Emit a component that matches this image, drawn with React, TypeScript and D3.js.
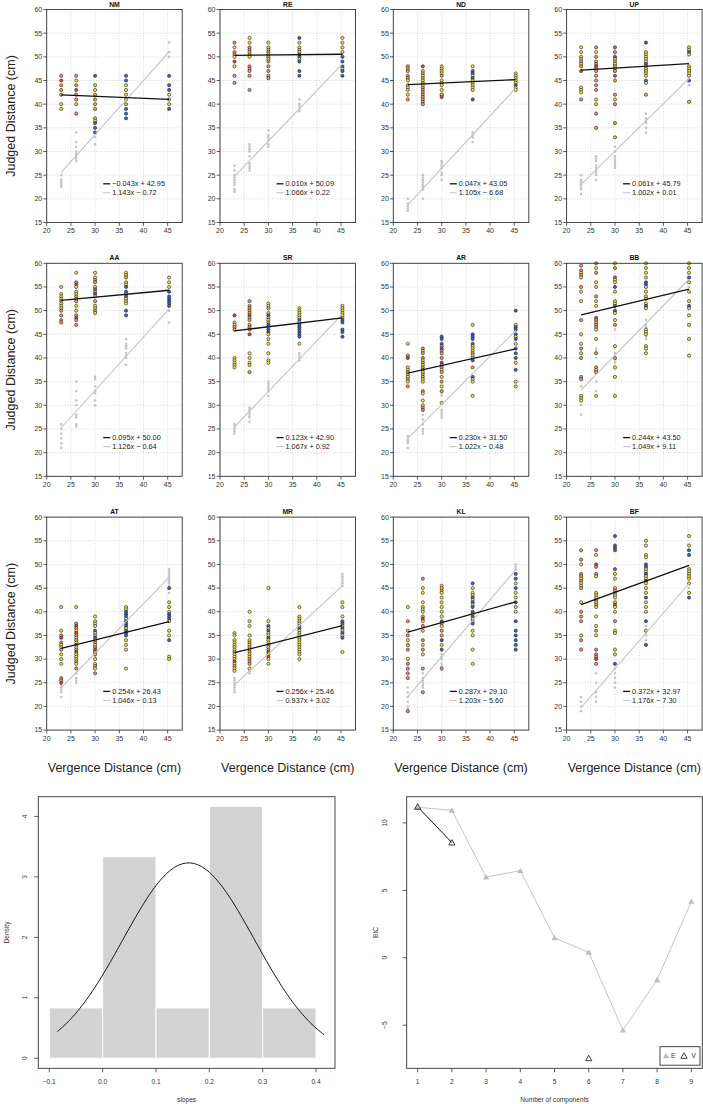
import React from "react";
import * as d3 from "d3";

// ---------- DATA ----------
const panelNames = ["NM", "RE", "ND", "UP", "AA", "SR", "AR", "BB", "AT", "MR", "KL", "BF"];
const vergenceX = [23, 26.1, 30, 36.4, 45.3];
const blackSlope = [-0.043, 0.010, 0.047, 0.061, 0.095, 0.123, 0.230, 0.244, 0.254, 0.256, 0.287, 0.372];
const blackIntercept = [42.95, 50.09, 43.05, 45.79, 50.00, 42.90, 31.50, 43.50, 26.43, 25.46, 29.10, 32.97];
const graySlope = [1.143, 1.066, 1.105, 1.002, 1.126, 1.067, 1.022, 1.049, 1.046, 0.937, 1.203, 1.176];
const grayIntercept = [-0.72, 0.22, -6.68, 0.01, -0.64, 0.92, -0.48, 9.11, -0.13, 3.02, -5.60, -7.30];

const xTicks = [20, 25, 30, 35, 40, 45];
const yTicks = [15, 20, 25, 30, 35, 40, 45, 50, 55, 60];

// judged distances per vergence column: value + colour code
const NM_pts = [
  "46p 45r 44o 43o 42o 40y 39y",
  "46p 45y 44o 43r 42o 41o 40y 38p",
  "46b 44g 43y 42o 41o 40o 39o 37g 36.5y 36b 35b 34b",
  "46b 45b 44y 43y 42y 41g 40g 39b 38b 37b",
  "46b 44b 43b 42y 41g 40y 39b",
];
const NM_gray = [[25, 24, 23.5, 23, 22.5], [34, 32, 31, 30, 29.5, 29, 28.5, 28], [34, 33, 31.5], [41, 40], [53, 51, 50]];

const RE_pts = [
  "53p 52y 51o 50.5o 50y 49r 48y 46p 44.5p",
  "54y 53y 52o 51.5p 51y 50.5o 50y 48p 47.5p 47p 46p 43p",
  "53y 52y 51.5o 51o 50.5y 50o 49.5y 49p 48p 47p 46p 45.5p",
  "54b 53y 52y 51.5o 51y 50.5b 50b 49.5y 49b 47b 46b",
  "54y 53y 52y 51y 50b 49b 48b 47.5y 47b 46b",
];
const RE_gray = [[27, 26, 25, 24.5, 24, 23.5, 23, 22, 21.5], [31.5, 31, 30.5, 30, 29, 27.5, 27, 26.5, 26], [34.5, 33.5, 33, 32.5, 31.5, 31], [41, 40, 39.5, 39, 38.5], [48, 47]];

const ND_pts = [
  "48p 47.5o 47o 46p 45.5o 45y 44y 43.5y 43y 42y 41o",
  "48r 47y 46.5o 46y 45.5o 45y 44.5o 44y 43.5o 43p 42.5o 42p 41.5o 41p 40.5o 40p",
  "48y 47.5y 47y 46.5y 46o 45y 44.5y 44y 43y 42p 42y 41.5r",
  "48y 47b 46.5b 46y 45.5b 45y 44.5y 44y 43.5y 43y 41b",
  "46.5y 46y 45.5y 45y 44.5y 44b 43.5y 43y",
];
const ND_gray = [[20, 19, 18.5, 18, 17.5], [25, 24.5, 24, 23.5, 23, 22.5, 22, 20], [28, 27.5, 27, 26.5, 25.5, 25, 24], [34, 33.5, 33, 32], [43]];

const UP_pts = [
  "52y 51y 50y 49.5y 49p 48.5y 48o 47r 43.5y 43y 42.5y 41p",
  "52p 51y 50p 49o 48.5p 48r 47.5p 47o 46p 45p 44p 43p 41y 40y 38p 35o",
  "52v 51p 50b 49.5y 49o 48.5y 48o 47.5y 47p 46r 45o 42p 41y 40p 36o 33g",
  "53b 51y 50.5y 50y 49.5y 49y 48.5b 48y 47.5y 47y 46.5y 46y 45b 44.5y 42o",
  "52y 51.5y 51b 50.5y 48y 47.5y 47y 46.5y 46y 45b 40.5g",
];
const UP_gray = [[25, 24, 23.5, 23, 22.5, 22, 21], [29, 28.5, 28, 27, 26.5, 26, 25.5, 25, 24], [31, 30, 29, 28.5, 28, 27.5, 27, 26.5], [38, 37, 36.5, 36, 35, 34], [44]];

const AA_pts = [
  "55y 53.5y 53y 52.5y 52o 51.5y 51y 50.5y 50p 49p 48p 47.5p",
  "58y 56p 55.5r 55y 54y 53.5y 53o 52.5y 52p 51y 50y 49p 48.5r 48p 47p",
  "58y 57y 56.5p 56p 55y 54.5r 54p 53.5b 53y 52o 51y 50.5y 50p 49.5y",
  "58y 57.5y 57o 56y 55.5y 55b 54b 53.5y 53b 52.5y 52y 51.5y 50b 49b",
  "57y 56y 55y 54b 53b 52.5b 52b 51.5b 51b",
];
const AA_gray = [[26, 25, 24, 23, 22, 21], [35, 33, 31, 30, 28, 27.5, 26, 25.5], [36, 35.5, 34, 33, 32.5, 31, 30], [44, 43, 42.5, 42, 41, 40.5, 40, 38.5], [50, 47.5]];

const SR_pts = [
  "49r 47.5y 47y 46.5o 46o 40y 39.5y 39y 38.5y 38y",
  "52p 51p 50.5o 50o 49.5o 49r 48.5o 48o 47o 46.5p 46o 45r 41y 40y 39y 38.5y 37o",
  "51.5y 51y 50.5o 49.5y 49b 48.5o 48y 47.5o 47b 46.5y 46b 45.5b 45y 44y 43y 41y 39.5y 39y",
  "50.5y 50y 49.5y 49y 48.5y 48b 47.5y 47b 46.5b 46b 45.5b 45b 44.5b 43y",
  "51y 50.5y 50y 49.5y 49y 48.5y 48b 47.5b 46b 45.5b 44.5b",
];
const SR_gray = [[26, 25.5, 25, 24.5, 24], [29.5, 29, 28.5, 28, 27.5, 26.5], [35, 34.5, 34, 33.5, 33, 32], [41, 40.5, 40, 39.5], [48]];

const AR_pts = [
  "43y 40.5p 40r 38y 37.5y 37o 36.5o 36y 35.5o 35y 34o",
  "42p 41.5y 41o 40p 39.5y 39o 38.5y 38p 37.5o 37y 36.5p 36o 35.5y 35y 33p 32.5y 31y 30y 29.5p 29p",
  "44.5b 44b 43b 42.5p 42b 41.5p 41o 40p 39b 38.5o 38p 37.5y 37o 36y 35o 34y 33o 30.5y",
  "47y 45b 44.5b 44b 43b 42.5y 42y 41.5y 41o 40.5y 40y 39.5b 38o 36b 35.5y 35y 32y",
  "50b 47y 46.5b 46b 45b 44.5y 44b 43y 42b 41b 40b 39y 37.5b 35y 34y",
];
const AR_gray = [[23.5, 23, 22.5, 22, 21], [28, 27, 26, 25, 24.5, 24], [32.5, 32, 29, 28.5, 28, 27.5], [36, 35], [46, 45]];

const BB_pts = [
  "59.5p 58.5p 58y 57.5o 57y 55o 54y 52y 48p 45y 43y 42p 41y 40p 36p 35.5p 32y 31.5y 31y",
  "60p 59y 58p 56y 55y 53p 52y 51y 48.5r 48p 47.5o 47p 46.5p 46y 44y 41p 38o 37.5y 37p 32y",
  "60y 59o 57r 56.5y 56y 55b 54y 52y 51.5y 51r 50b 49.5y 48y 47p 42.5y 40p 38y 36y 32y",
  "60y 59y 58y 57y 56b 55.5b 55y 54y 53y 52.5y 51.5y 51b 50.5y 46y 45.5y 45y 42.5y 42y 41y",
  "60y 59y 58y 57b 56y 54y 52y 51b 50.5y 49y 47y 44y 40.5y",
];
const BB_gray = [[34, 32, 30, 28], [42, 41.5, 41, 40, 35, 33], [46, 41, 40, 39.5, 39, 38], [48, 47, 46.5, 46, 45.5, 44.5, 44], [56, 55]];

const AT_pts = [
  "41y 36y 35p 34.5r 33.5p 33y 32.5y 32o 31y 30y 29y 26p 25.5p 25r",
  "41y 37.5p 37r 36.5p 36y 35.5r 35p 34.5y 34o 33.5y 33p 32.5y 32o 31.5r 31y 30.5y 30y 29.5p 29y 28p",
  "39y 38y 37.5y 37y 36b 35.5y 35p 34.5b 34y 33.5p 33y 32.5p 32r 31.5p 31o 30y 29y 28.5p 28y 27p",
  "41y 40.5y 40b 39.5b 39b 38.5y 38b 37.5b 37b 36.5y 36b 35.5b 35b 34y 33y 32y 28y",
  "45b 42y 41y 40y 39.5b 39b 38.5b 38y 36y 35y 34b 30.5y 30y",
];
const AT_gray = [[24.5, 24, 23.5, 23, 22], [29, 28, 27, 26, 25.5, 25], [32, 31, 30.5, 30, 29], [38, 37.5, 37, 36], [49, 48.5, 48, 47.5, 47, 46.5, 46, 45.5, 44]];

const MR_pts = [
  "35.5y 35y 34y 33.5y 33y 32.5y 32y 31.5o 31y 30.5y 30y 29.5r 29y 28.5o 28y 27.5y",
  "40y 38y 37y 35y 34y 33.5o 33y 32.5o 32y 31.5o 31y 30.5y 30o 29.5p 29o 28y",
  "45y 38y 37b 36.5y 36b 35.5y 35y 34.5b 34y 33.5y 33p 32.5y 32p 31.5r 31y 30.5r 30y 29y",
  "41y 39y 38.5y 38y 37.5y 37y 36.5b 36y 35.5y 35y 34.5y 34y 33.5y 33y 32.5y 32y 31.5y 31y 30y",
  "42y 41y 39y 38b 37.5b 37y 36.5b 36y 35.5b 35y 34.5b 31.5y",
];
const MR_gray = [[26, 25.5, 25, 24.5, 24, 23.5, 23], [28, 27.5, 27], [31, 30], [38, 37], [48, 47.5, 47, 46.5, 46, 45.5]];

const KL_pts = [
  "41y 38o 36y 35p 34y 33o 32p 30y 29p 28p 27p 26p 19p",
  "47p 45y 44y 42y 41y 40.5y 40y 39p 38.5r 38y 37p 36y 34p 33y 32p 31y 28p 23p",
  "45.5y 45y 44.5o 44y 43y 42y 41y 40y 39y 38b 37.5p 37y 36p 35o 34b 33y 32b 28p",
  "46b 45y 44y 43.5y 43b 42.5y 42b 41.5y 41b 40b 39.5y 39b 38.5y 38y 37.5b 36y 35y 32y 29y",
  "48b 47b 46y 45b 44y 43y 42b 41y 40y 38b 36b 35b 34b 33b 32b",
];
const KL_gray = [[24, 23, 22, 21, 20, 19.5], [27, 26, 25.5, 25, 24.5, 24], [31, 30.5, 30, 29, 28.5], [40, 39, 38], [50, 49.5, 49]];

const BF_pts = [
  "53o 51p 50y 48p 47.5o 47y 46.5p 46y 45.5y 45o 42y 40p 39o 38p 35y 34p 32o",
  "53p 52y 50r 49.5p 48p 47.5y 44y 43.5y 43y 42.5o 42y 41.5o 41y 39y 37y 36p 35y 32p 31p 30.5p 30r 29p",
  "56b 54b 53.5b 53r 49v 48y 47y 45y 44.5p 44y 43.5y 43y 42y 41.5r 41y 40y 38p 36y 35.5y 32y 31y 29b",
  "55y 54y 52y 51.5y 50b 49.5b 49y 48.5y 48b 47.5y 47y 46.5b 46y 45y 44y 43b 42y 41y 40y 38b 36y 33b",
  "56y 54y 53b 52b 49y 48.5y 48y 47.5y 47y 46y 44y 43b",
];
const BF_gray = [[22, 21, 20, 19], [27, 25, 23, 22, 21], [28, 27, 26, 25, 24], [37, 35.5, 35, 34], [46, 45, 44]];

const panelPoints = [NM_pts, RE_pts, ND_pts, UP_pts, AA_pts, SR_pts, AR_pts, BB_pts, AT_pts, MR_pts, KL_pts, BF_pts];
const panelGray = [NM_gray, RE_gray, ND_gray, UP_gray, AA_gray, SR_gray, AR_gray, BB_gray, AT_gray, MR_gray, KL_gray, BF_gray];

// histogram
const histBreaks = [-0.1, 0, 0.1, 0.2, 0.3, 0.4];
const histXTicks = [-0.1, 0, 0.1, 0.2, 0.3, 0.4];
const histYTicks = [0, 1, 2, 3, 4];
const curveRange = [-0.085, 0.415];

// BIC
const components = [1, 2, 3, 4, 5, 6, 7, 8, 9];
const bicE = [11.16, 10.94, 5.99, 6.46, 1.48, 0.40, -5.37, -1.63, 4.18];
const bicV: (number | null)[] = [11.2, 8.54, null, null, null, -7.45, null, null, null];
const bicYTicks = [-5, 0, 5, 10];

// ---------- STYLE ----------
const FONT = "'Liberation Sans', Arial, Helvetica, sans-serif";
const colorMap: Record<string, string> = {
  p: "#F08C80", r: "#E3412E", o: "#F4A23A", y: "#ECE040", g: "#C9D845", b: "#3B62D0", v: "#9A5FB5",
};
const GRAY = "#c4c4c4";
const AXIS = "#333";

const W = 135.5;
const H = 213;
const colLeft = (c: number) => 46.7 + c * 173.3;
const rowTop = (r: number) => 9.5 + r * 253.8;

const fmtMinus = (s: string) => s.replace("-", "\u2212");
const fmtFit = (m: number, b: number) =>
  `${fmtMinus(m.toFixed(3))}x ${b < 0 ? "\u2212" : "+"} ${Math.abs(b).toFixed(2)}`;

function Panel({ i }: { i: number }) {
  const col = i % 4;
  const row = Math.floor(i / 4);
  const x = d3.scaleLinear().domain([20, 48]).range([0, W]);
  const y = d3.scaleLinear().domain([15, 60]).range([H, 0]);
  const pts = panelPoints[i].flatMap((s, ci) =>
    s.split(" ").map((tok) => ({ vx: vergenceX[ci], vy: +tok.slice(0, -1), c: tok.slice(-1) }))
  );
  const grays = panelGray[i].flatMap((arr, ci) => arr.map((v) => ({ vx: vergenceX[ci], vy: v })));
  const ends = [vergenceX[0], vergenceX[vergenceX.length - 1]];
  const bf = (v: number) => blackSlope[i] * v + blackIntercept[i];
  const gf = (v: number) => graySlope[i] * v + grayIntercept[i];
  const grayPath = d3.line<number>().x((v) => x(v)).y((v) => y(gf(v)))(ends) || "";
  const blackPath = d3.line<number>().x((v) => x(v)).y((v) => y(bf(v)))(ends) || "";
  return (
    <g transform={`translate(${colLeft(col)},${rowTop(row)})`}>
      {xTicks.map((t) => (
        <line key={"gx" + t} x1={x(t)} x2={x(t)} y1={0} y2={H} stroke="#bdbdbd" strokeWidth={0.6} strokeDasharray="1,1.6" />
      ))}
      {yTicks.map((t) => (
        <line key={"gy" + t} x1={0} x2={W} y1={y(t)} y2={y(t)} stroke="#bdbdbd" strokeWidth={0.6} strokeDasharray="1,1.6" />
      ))}
      {grays.map((d, k) => (
        <circle key={"g" + k} cx={x(d.vx)} cy={y(d.vy)} r={1.3} fill={GRAY} />
      ))}
      {pts.map((d, k) => (
        <circle key={"p" + k} cx={x(d.vx)} cy={y(d.vy)} r={1.6} fill={colorMap[d.c]} stroke="#222" strokeWidth={0.6} />
      ))}
      <path d={grayPath} stroke={GRAY} strokeWidth={1.1} fill="none" />
      <path d={blackPath} stroke="#111" strokeWidth={1.3} fill="none" />
      {/* legend */}
      <line x1={56.5} x2={63.5} y1={H - 38.7} y2={H - 38.7} stroke="#111" strokeWidth={1.3} />
      <line x1={56.5} x2={63.5} y1={H - 29.7} y2={H - 29.7} stroke={GRAY} strokeWidth={1.1} />
      <text x={65.5} y={H - 36.2} fontSize={7.3} fontFamily={FONT} fill="#222">{fmtFit(blackSlope[i], blackIntercept[i])}</text>
      <text x={65.5} y={H - 27.2} fontSize={7.3} fontFamily={FONT} fill="#222">{fmtFit(graySlope[i], grayIntercept[i])}</text>
      <rect x={0} y={0} width={W} height={H} fill="none" stroke={AXIS} strokeWidth={0.9} />
      {yTicks.map((t) => (
        <g key={"ty" + t}>
          <line x1={-3.3} x2={0} y1={y(t)} y2={y(t)} stroke={AXIS} strokeWidth={0.8} />
          <text x={-4.5} y={y(t) + 2.4} fontSize={7} textAnchor="end" fontFamily={FONT} fill="#333">{t}</text>
        </g>
      ))}
      {xTicks.map((t) => (
        <g key={"tx" + t}>
          <line x1={x(t)} x2={x(t)} y1={H} y2={H + 3.3} stroke={AXIS} strokeWidth={0.8} />
          <text x={x(t)} y={H + 10.8} fontSize={7} textAnchor="middle" fontFamily={FONT} fill="#333">{t}</text>
        </g>
      ))}
      <text x={W / 2} y={-3} fontSize={6.8} fontWeight="bold" textAnchor="middle" fontFamily={FONT} fill="#111">{panelNames[i]}</text>
      {col === 0 && (
        <text transform={`translate(${14.8 - colLeft(0)},${H / 2}) rotate(-90)`} fontSize={12.5} textAnchor="middle" fontFamily={FONT} fill="#222">Judged Distance (cm)</text>
      )}
      {row === 2 && (
        <text x={W / 2} y={H + 41.5} fontSize={12.5} textAnchor="middle" fontFamily={FONT} fill="#222">Vergence Distance (cm)</text>
      )}
    </g>
  );
}

function Histogram() {
  const L = 38.3, R = 335, T = 796.7, B = 1068.3;
  const x = d3.scaleLinear().domain([-0.1206, 0.4356]).range([L, R]);
  const y = d3.scaleLinear().domain([-0.1664, 4.3264]).range([B, T]);
  const bins = d3.bin().domain([histBreaks[0], histBreaks[histBreaks.length - 1]]).thresholds(histBreaks.slice(1, -1))(blackSlope);
  const n = blackSlope.length;
  const mean = d3.mean(blackSlope) as number;
  const sd = Math.sqrt(d3.mean(blackSlope.map((v) => (v - mean) ** 2)) as number);
  const dens = (v: number) => Math.exp(-0.5 * ((v - mean) / sd) ** 2) / (sd * Math.sqrt(2 * Math.PI));
  const xs = d3.range(0, 201).map((k) => curveRange[0] + (k / 200) * (curveRange[1] - curveRange[0]));
  const path = d3.line<number>().x((v) => x(v)).y((v) => y(dens(v)))(xs) || "";
  return (
    <g>
      {bins.map((b, k) => {
        const h = b.length / (n * ((b.x1 as number) - (b.x0 as number)));
        return (
          <rect key={k} x={x(b.x0 as number)} y={y(h)} width={x(b.x1 as number) - x(b.x0 as number)} height={y(0) - y(h)} fill="#d3d3d3" stroke="#fff" strokeWidth={1} />
        );
      })}
      <path d={path} fill="none" stroke="#111" strokeWidth={1} />
      <rect x={L} y={T} width={R - L} height={B - T} fill="none" stroke={AXIS} strokeWidth={0.9} />
      {histXTicks.map((t) => (
        <g key={"hx" + t}>
          <line x1={x(t)} x2={x(t)} y1={B} y2={B + 4} stroke={AXIS} strokeWidth={0.8} />
          <text x={x(t)} y={B + 15.5} fontSize={6.6} textAnchor="middle" fontFamily={FONT} fill="#333">{fmtMinus(t.toFixed(1))}</text>
        </g>
      ))}
      {histYTicks.map((t) => (
        <g key={"hy" + t}>
          <line x1={L - 4} x2={L} y1={y(t)} y2={y(t)} stroke={AXIS} strokeWidth={0.8} />
          <text transform={`translate(${27.3},${y(t)}) rotate(-90)`} fontSize={6.6} textAnchor="middle" fontFamily={FONT} fill="#333">{t}</text>
        </g>
      ))}
      <text x={(L + R) / 2} y={1102.3} fontSize={6.6} textAnchor="middle" fontFamily={FONT} fill="#333">slopes</text>
      <text transform={`translate(9.2,${(T + B) / 2}) rotate(-90)`} fontSize={6.6} textAnchor="middle" fontFamily={FONT} fill="#333">Density</text>
    </g>
  );
}

function BIC() {
  const L = 406.7, R = 702.3, T = 796.7, B = 1068.3;
  const x = d3.scaleLinear().domain([0.68, 9.32]).range([L, R]);
  const y = d3.scaleLinear().domain([-8.196, 11.946]).range([B, T]);
  const tri = d3.symbol().type(d3.symbolTriangle).size(17)() || "";
  const lineE = d3.line<number>().x((_, k) => x(components[k])).y((v) => y(v))(bicE) || "";
  const lineV = d3.line<number | null>().defined((v) => v !== null).x((_, k) => x(components[k])).y((v) => y(v as number))(bicV) || "";
  return (
    <g>
      <path d={lineE} fill="none" stroke={GRAY} strokeWidth={1} />
      <path d={lineV} fill="none" stroke="#111" strokeWidth={1} />
      {bicE.map((v, k) => (
        <path key={"e" + k} d={tri} transform={`translate(${x(components[k])},${y(v) + 0.6})`} fill="#bdbdbd" />
      ))}
      {bicV.map((v, k) =>
        v === null ? null : (
          <path key={"v" + k} d={tri} transform={`translate(${x(components[k])},${y(v) + 0.6})`} fill="none" stroke="#111" strokeWidth={0.8} />
        )
      )}
      <rect x={L} y={T} width={R - L} height={B - T} fill="none" stroke={AXIS} strokeWidth={0.9} />
      {components.map((t) => (
        <g key={"bx" + t}>
          <line x1={x(t)} x2={x(t)} y1={B} y2={B + 4} stroke={AXIS} strokeWidth={0.8} />
          <text x={x(t)} y={B + 15.5} fontSize={6.6} textAnchor="middle" fontFamily={FONT} fill="#333">{t}</text>
        </g>
      ))}
      {bicYTicks.map((t) => (
        <g key={"by" + t}>
          <line x1={L - 4} x2={L} y1={y(t)} y2={y(t)} stroke={AXIS} strokeWidth={0.8} />
          <text transform={`translate(${387.3},${y(t)}) rotate(-90)`} fontSize={6.6} textAnchor="middle" fontFamily={FONT} fill="#333">{fmtMinus(String(t))}</text>
        </g>
      ))}
      <text x={(L + R) / 2} y={1102.3} fontSize={6.6} textAnchor="middle" fontFamily={FONT} fill="#333">Number of components</text>
      <text transform={`translate(377.5,${(T + B) / 2}) rotate(-90)`} fontSize={6.6} textAnchor="middle" fontFamily={FONT} fill="#333">BIC</text>
      {/* legend */}
      <rect x={660} y={1046.7} width={40} height={18.5} fill="#fff" stroke={AXIS} strokeWidth={0.9} />
      <path d={tri} transform="translate(666,1056.5)" fill="#bdbdbd" />
      <text x={671} y={1058.4} fontSize={6.6} fontFamily={FONT} fill="#333">E</text>
      <path d={tri} transform="translate(684,1056.5)" fill="none" stroke="#111" strokeWidth={0.8} />
      <text x={691.5} y={1058.4} fontSize={6.6} fontFamily={FONT} fill="#333">V</text>
    </g>
  );
}

export default function App() {
  return (
    <svg
      width={703}
      height={1104}
      viewBox="0 0 703 1104"
      style={{ position: "absolute", left: 0, top: 0, display: "block", background: "#fff" }}
    >
      <rect x={0} y={0} width={703} height={1104} fill="#fff" />
      {panelNames.map((_, i) => (
        <Panel key={i} i={i} />
      ))}
      <Histogram />
      <BIC />
    </svg>
  );
}
